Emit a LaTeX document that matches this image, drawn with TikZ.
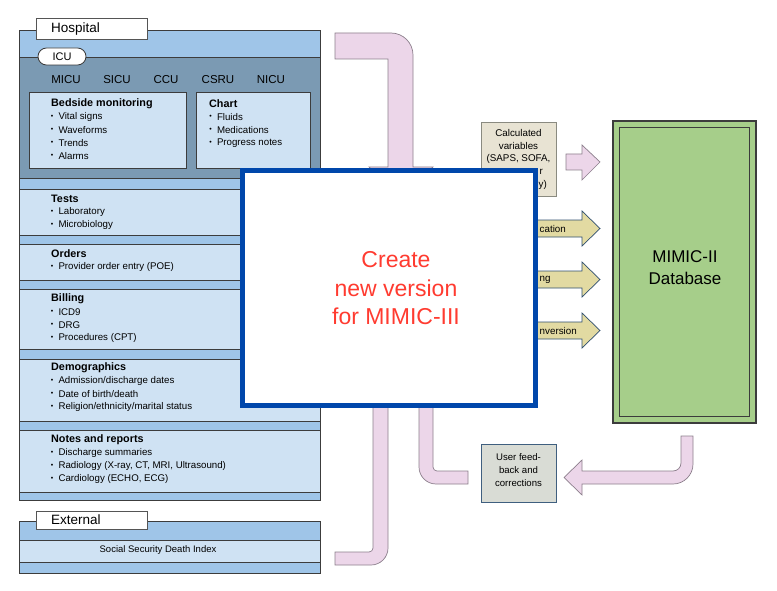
\documentclass[tikz,border=0pt]{standalone}
\usepackage{fontspec}
\setmainfont{Liberation Sans}
\definecolor{bandblue}{HTML}{9FC5E8}
\definecolor{panelblue}{HTML}{CFE2F3}
\definecolor{icudark}{HTML}{7B9AB3}
\definecolor{edge}{HTML}{3C3C3C}
\definecolor{tabedge}{HTML}{555555}
\definecolor{pinkfill}{HTML}{ECD6E9}
\definecolor{pinkedge}{HTML}{8C7F8C}
\definecolor{khakifill}{HTML}{E2DAA2}
\definecolor{khakiedge}{HTML}{2F4F6F}
\definecolor{calcfill}{HTML}{E8E3D3}
\definecolor{calcedge}{HTML}{8A8A80}
\definecolor{fbfill}{HTML}{D9DCD5}
\definecolor{fbedge}{HTML}{3F5F7F}
\definecolor{dbgreen}{HTML}{A6CE8A}
\definecolor{boxblue}{HTML}{0047AB}
\definecolor{newred}{HTML}{FF3B30}
\newcommand\bullist[4]{\foreach \t [count=\i] in {#4} {\node[bul] (#1b\i) at (#2,#3+13*\i) {\textbullet}; \node[it] (#1\i) at (#2+6.3,#3+13*\i) {\t};}}
\begin{document}
\begin{tikzpicture}[x=1pt,y=-1pt,
  lbl/.style={inner sep=0,anchor=west},
  hd/.style={lbl,font=\fontsize{10.8}{12}\selectfont\bfseries},
  it/.style={lbl,font=\fontsize{9.7}{11}\selectfont},
  bul/.style={inner sep=0,font=\fontsize{7}{8}\selectfont},
  band/.style={fill=bandblue,draw=edge,line width=0.9pt},
  panel/.style={fill=panelblue,draw=edge,line width=0.9pt},
  tab/.style={fill=white,draw=tabedge,line width=0.8pt},
  pinkarrow/.style={fill=pinkfill,draw=pinkedge,line width=0.7pt},
  khaki/.style={fill=khakifill,draw=khakiedge,line width=0.7pt},
  small/.style={font=\fontsize{9.8}{11}\selectfont,inner sep=0},
  unit/.style={inner sep=0,font=\fontsize{11.5}{13}\selectfont},
  newbox/.style={draw=boxblue,line width=5pt,fill=white,inner sep=0}
]
\useasboundingbox (0,0) rectangle (777,591);

% ---------- Hospital ----------
\draw[band] (19,30) rectangle (320,500);
\draw[tab] (36,18) rectangle (147,39);
\node[lbl,font=\fontsize{13.5}{15}\selectfont] (hosp) at (51,29) {Hospital};
\draw[fill=icudark,draw=edge,line width=0.9pt] (19,57) rectangle (320,178);
\draw[fill=white,draw=edge,line width=0.8pt,rounded corners=8.5pt] (38,48) rectangle (86,65);
\node[inner sep=0,font=\fontsize{11}{13}\selectfont] (icu) at (62,56.5) {ICU};
\node[unit] (micu) at (66,80) {MICU};
\node[unit] (sicu) at (117,80) {SICU};
\node[unit] (ccu) at (166,80) {CCU};
\node[unit] (csru) at (218,80) {CSRU};
\node[unit] (nicu) at (271,80) {NICU};

\draw[panel] (29,92) rectangle (186,168);
\node[hd] (bmT) at (51,104) {Bedside monitoring};
\bullist{bm}{52}{104}{Vital signs,Waveforms,Trends,Alarms}
\draw[panel] (196,92) rectangle (310,168);
\node[hd] (chT) at (209,104) {Chart};
\bullist{ch}{210.5}{104}{Fluids,Medications,Progress notes}

\draw[panel] (19,189) rectangle (320,235);
\node[hd] (teT) at (51,199) {Tests};
\bullist{te}{52}{199}{Laboratory,Microbiology}

\draw[panel] (19,244) rectangle (320,280);
\node[hd] (orT) at (51,254) {Orders};
\bullist{or}{52}{254}{Provider order entry (POE)}

\draw[panel] (19,289) rectangle (320,349);
\node[hd] (biT) at (51,299) {Billing};
\bullist{bi}{52}{299}{ICD9,DRG,Procedures (CPT)}

\draw[panel] (19,359) rectangle (320,421);
\node[hd] (deT) at (51,368) {Demographics};
\bullist{de}{52}{368}{Admission/discharge dates,Date of birth/death,Religion/ethnicity/marital status}

\draw[panel] (19,430) rectangle (320,492);
\node[hd] (noT) at (51,440) {Notes and reports};
\bullist{no}{52}{440}{Discharge summaries,{Radiology (X-ray, CT, MRI, Ultrasound)},{Cardiology (ECHO, ECG)}}

% ---------- External ----------
\draw[band] (19,521) rectangle (320,573);
\draw[panel] (19,540) rectangle (320,562);
\draw[tab] (36,511) rectangle (147,529);
\node[lbl,font=\fontsize{13.5}{15}\selectfont] (ext) at (51,520) {External};
\node[inner sep=0,font=\fontsize{9.5}{11}\selectfont] (ssdi) at (158,550) {Social Security Death Index};

% ---------- pink arrows ----------
\draw[pinkarrow] (335,33) -- (391,33) arc[start angle=-90,end angle=0,radius=22] -- (413,167) -- (433,167) -- (401,200) -- (369,167) -- (388,167) -- (388,59) -- (335,59) -- cycle;
\draw[pinkarrow] (373,400) -- (388,400) -- (388,548) arc[start angle=0,end angle=90,radius=17] -- (335,565) -- (335,552) -- (369,552) arc[start angle=90,end angle=0,radius=4] -- cycle;
\draw[pinkarrow] (433,400) -- (433,467) arc[start angle=180,end angle=90,radius=4] -- (468,471) -- (468,484) -- (436,484) arc[start angle=90,end angle=180,radius=17] -- (419,400) -- cycle;
\draw[pinkarrow] (566,154) -- (582,154) -- (582,145) -- (600,162) -- (582,180) -- (582,170) -- (566,170) -- cycle;
\draw[pinkarrow] (681,436) -- (693,436) -- (693,464) arc[start angle=0,end angle=90,radius=20] -- (582,484) -- (582,495) -- (564,477.5) -- (582,460) -- (582,471) -- (673,471) arc[start angle=90,end angle=0,radius=8] -- cycle;

% ---------- calculated variables ----------
\draw[fill=calcfill,draw=calcedge,line width=0.8pt] (481,122) rectangle (556,196);
\node[small] (cv1) at (518.5,133) {Calculated};
\node[small] (cv2) at (518.5,146) {variables};
\node[small] (cv3) at (518.5,159) {(SAPS, SOFA,};
\node[small,anchor=east] (cv4) at (543,172) {r};
\node[small,anchor=east] (cv5) at (547,185) {y)};

% ---------- khaki arrows ----------
\foreach \c [count=\k] in {228.5,279.5,330.5} {
  \draw[khaki] (470,\c-8.5) -- (582,\c-8.5) -- (582,\c-17.5) -- (600,\c) -- (582,\c+17.5) -- (582,\c+8.5) -- (470,\c+8.5) -- cycle;
}
\node[small,anchor=west] (k1) at (539.5,229) {cation};
\node[small,anchor=west] (k2) at (539.5,280) {ng};
\node[small,anchor=west] (k3) at (539.5,331) {nversion};

% ---------- database ----------
\draw[fill=dbgreen,draw=edge,line width=1.2pt] (613,121) rectangle (756,423);
\draw[draw=edge,line width=0.7pt] (619,127) rectangle (749,416);
\node[inner sep=0,align=center,font=\fontsize{17}{22}\selectfont] (db) at (685,268) {MIMIC-II\\Database};

% ---------- feedback ----------
\draw[fill=fbfill,draw=fbedge,line width=0.8pt] (481,444) rectangle (556,502);
\node[small,align=center,font=\fontsize{9.6}{13}\selectfont] (fb) at (518.5,470) {User feed-\\back and\\corrections};

% ---------- overlay box ----------
\node[newbox,minimum width=293pt,minimum height=235pt] (newv) at (389,288) {};
\node[inner sep=0,align=center,text=newred,font=\fontsize{23}{28.5}\selectfont] (newt) at (396,288.5) {Create\\new version\\for MIMIC-III};
\end{tikzpicture}
\end{document}
